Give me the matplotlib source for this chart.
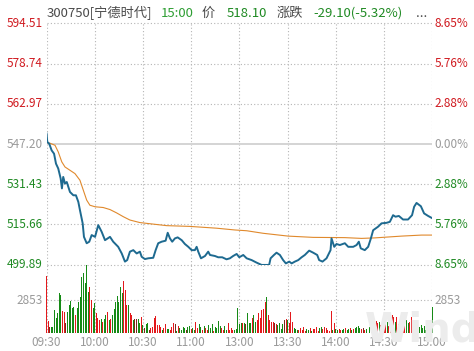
import numpy as np
import matplotlib
matplotlib.use("Agg")
import matplotlib.pyplot as plt

plt.rcParams["font.family"] = ["Noto Sans CJK SC", "DejaVu Sans"]

W, H = 474, 351
RED = "#d01a20"; GREEN = "#1f8a23"; HGREEN = "#2e9e33"; GRAY = "#9a9a9a"; INK = "#4a4a4a"
LINE = "#1e6a90"; AVGC = "#e0892c"; GRID = "#b5b5b5"; BASE = "#d4d4d4"
BAR = {"r": "#e3191c", "g": "#168a16", "d": "#7c2a1e"}

PREV_CLOSE = 547.20
PRICE_TICKS = [594.51, 578.74, 562.97, 547.20, 531.43, 515.66, 499.89]
PCT_LABELS = ["8.65%", "5.76%", "2.88%", "0.00%", "2.88%", "5.76%", "8.65%"]
TIME_LABELS = ["09:30", "10:00", "10:30", "11:00", "13:00", "13:30", "14:00", "14:30", "15:00"]
TIME_POS = [0, 30, 60, 90, 120, 150, 180, 210, 240]
VOL_TICK = 2853

# price trace: minute since open, price
PRICE_T = [0, 0.5, 1.7, 3.2, 4.7, 5.9, 7.3, 8.8, 9.6, 10.4, 11.5, 12.6, 14.6, 16.7, 18.3,
           19.8, 20.8, 22.5, 23.3, 25.0, 26.6, 28.1, 30.2, 32.2, 34.3, 36.4, 39.5, 41.5,
           44.6, 46.8, 48.8, 50.2, 51.9, 54.0, 56.1, 58.1, 59.2, 61.2, 63.3, 66.4, 67.9,
           69.5, 71.6, 74.1, 75.4, 76.8, 78.2, 79.9, 81.6, 84.1, 86.1, 88.2, 90.3, 92.3,
           93.4, 94.4, 96.1, 98.6, 100.6, 101.7, 104.8, 106.8, 109.3, 112.0, 114.1, 116.1,
           118.3, 119.9, 122.4, 124.5, 127.6, 130.7, 133.8, 138.5, 139.4, 141.5, 143.1,
           145.2, 147.2, 148.9, 151.0, 152.5, 154.5, 156.6, 158.7, 160.7, 163.4, 165.9,
           168.4, 169.6, 171.7, 174.2, 176.7, 177.3, 179.0, 180.4, 182.5, 185.6, 187.7,
           190.8, 192.9, 194.3, 195.5, 198.0, 200.1, 201.8, 203.2, 206.3, 208.4, 211.5,
           213.6, 215.6, 217.1, 219.2, 221.8, 224.9, 227.4, 228.7, 230.2, 232.9, 234.9,
           237.4, 240]
PRICE = [551.3, 548.0, 547.3, 544.7, 543.4, 539.5, 537.6, 533.7, 529.8, 534.3, 531.7, 532.3,
         528.4, 527.1, 527.1, 524.5, 521.3, 516.1, 510.8, 508.3, 508.9, 511.5, 510.8, 515.4,
         512.8, 509.5, 510.8, 508.9, 506.9, 504.3, 501.1, 501.7, 505.0, 505.6, 504.3, 505.0,
         503.0, 502.1, 502.4, 502.6, 505.6, 508.3, 508.9, 509.3, 512.4, 510.2, 508.9, 510.2,
         510.6, 509.5, 508.0, 506.9, 505.6, 505.6, 506.9, 505.0, 502.4, 503.3, 505.0, 503.7,
         503.3, 502.8, 502.8, 502.0, 502.4, 503.3, 504.1, 502.8, 503.7, 502.4, 501.7, 500.7,
         499.8, 499.8, 502.4, 503.7, 504.6, 503.7, 501.7, 500.4, 501.1, 500.4, 501.1, 501.7,
         502.8, 503.7, 505.4, 504.6, 503.7, 501.7, 501.1, 502.4, 505.6, 510.2, 506.9, 508.0,
         507.6, 508.3, 506.9, 506.9, 507.6, 508.9, 506.3, 505.6, 506.9, 510.2, 513.4, 514.8,
         516.1, 516.3, 516.7, 519.3, 518.7, 519.0, 517.6, 517.6, 519.3, 522.6, 524.1, 522.8,
         520.0, 519.0, 518.1]

# average price line
AVG_T = [0, 2.2, 5.3, 7.3, 9.5, 11.5, 14.6, 17.7, 20.8, 22.9, 25.0, 27.0, 30.2, 35.3, 39.5,
         43.6, 47.8, 51.9, 58.1, 74.7, 89.2, 105.8, 117.2, 124.5, 134.8, 150.3, 165.9, 185.6,
         196.0, 204.3, 220.9, 233.3, 240]
AVG = [547.8, 547.5, 546.7, 544.1, 540.2, 538.2, 536.9, 535.6, 533.0, 529.1, 525.2, 523.2,
       522.6, 522.3, 521.5, 520.2, 518.7, 517.4, 516.4, 515.2, 514.9, 514.2, 513.5, 513.2,
       512.2, 511.1, 510.6, 510.5, 510.2, 510.4, 511.1, 511.5, 511.5]

# per-minute volume and bar colour (r up / g down / d dark)
VOLUME = [4900, 1060, 570, 560, 570, 2000, 1300, 1730, 3460, 3300,
          1950, 1800, 920, 1870, 2400, 2820, 2160, 2290, 1580, 2160,
          2740, 3170, 4840, 5190, 4325, 5900, 3600, 4030, 2880, 2160,
          2600, 1730, 1300, 1150, 1210, 1000, 1270, 1560, 1850, 1150,
          1270, 1560, 2100, 2680, 3250, 2680, 4030, 3460, 4470, 3750,
          2450, 2450, 1730, 1590, 1150, 1270, 1270, 1210, 865, 1440,
          720, 430, 805, 920, 290, 430, 575, 1300, 1500, 720,
          720, 575, 290, 430, 805, 350, 350, 290, 575, 865,
          805, 230, 630, 430, 290, 575, 430, 290, 520, 630,
          350, 430, 290, 1010, 430, 805, 575, 290, 630, 430,
          290, 720, 430, 805, 230, 575, 430, 1065, 630, 430,
          290, 630, 290, 865, 290, 430, 290, 290, 350, 2160,
          805, 865, 865, 920, 805, 1730, 920, 865, 1300, 1590,
          1010, 1150, 1730, 1300, 2020, 2075, 2740, 3170, 1590, 1150,
          1010, 1010, 920, 805, 720, 865, 350, 805, 1150, 1210,
          1150, 865, 1870, 1010, 430, 350, 290, 290, 430, 290,
          520, 230, 350, 290, 430, 230, 350, 350, 520, 230,
          430, 575, 350, 520, 430, 290, 230, 1955, 290, 865,
          350, 290, 350, 290, 290, 350, 430, 290, 350, 430,
          290, 350, 430, 575, 630, 430, 350, 430, 290, 350,
          290, 575, 1210, 1010, 1150, 1090, 865, 1010, 720, 1150,
          430, 865, 1010, 630, 1150, 1590, 1440, 1010, 1385, 805,
          1300, 720, 1010, 720, 1150, 865, 1010, 1385, 865, 1010,
          720, 630, 575, 720, 430, 630, 290, 0, 0, 0, 2300]
VOL_DIR = ("rrdggggggg" "rrdgggggrg" "gggggggrrg" "grrrgrggrg" "rgggggggrr"
           "rgrrgddggr" "gdggdrrrrr" "rrgrrggrrr" "dgrggggdgg" "rggrrggrgr"
           "rgggrggggr" "rggrrrrggg" "ggrgdgggrg" "grrrrrrgrr" "rrdrggggdr"
           "grrrgggrrr" "rrggrgrrrr" "ggrrrrrrgr" "ggrrggrggr" "grggggrdrg"
           "ggrrrrrgrr" "rrgrrrrgrg" "gdrrggrrrg" "rgggggggggg")

fig = plt.figure(figsize=(W / 100, H / 100), dpi=100)
fig.patch.set_facecolor("white")
ax = fig.add_axes([46.5 / W, 1 - 264.7 / H, 385.8 / W, (264.7 - 23.3) / H])
axv = fig.add_axes([46.5 / W, 1 - 333.3 / H, 385.8 / W, (333.3 - 264.7) / H])
for a in (ax, axv):
    a.set_xlim(0, 240)
    a.set_xticks([]); a.set_yticks([])
    for sp in a.spines.values():
        sp.set_visible(False)
    for t in TIME_POS:
        a.axvline(t, color=GRID, lw=0.8, ls=(0, (1, 2)), zorder=1)

ax.set_ylim(PRICE_TICKS[-1], PRICE_TICKS[0])
tr = ax.get_yaxis_transform()
for i, (p, pct) in enumerate(zip(PRICE_TICKS, PCT_LABELS)):
    c = RED if p > PREV_CLOSE else (GREEN if p < PREV_CLOSE else GRAY)
    if p == PREV_CLOSE:
        ax.axhline(p, color=BASE, lw=1.4, zorder=1)
    else:
        ax.axhline(p, color=GRID, lw=0.8, ls=(0, (1, 2)), zorder=1, clip_on=False)
    ax.text(-0.01, p, f"{p:.2f}", transform=tr, ha="right", va="center",
            fontsize=8.5, color=c, clip_on=False)
    ax.text(1.005, p, pct, transform=tr, ha="left", va="center",
            fontsize=8.5, color=c, clip_on=False)

ax.plot(AVG_T, AVG, color=AVGC, lw=0.8, zorder=3)
ax.plot(PRICE_T, PRICE, color=LINE, lw=1.4, zorder=4, solid_joinstyle="round")

# volume panel
fig.text(365 / W, 1 - 311 / H, "Wind", fontsize=29, fontweight="bold", color="#ececec",
         ha="left", va="top", family="DejaVu Sans", zorder=0)
axv.patch.set_alpha(0)
axv.set_ylim(0, VOL_TICK * 68.4 / 33)
axv.axhline(VOL_TICK, color=GRID, lw=0.8, ls=(0, (1, 2)), zorder=1)
minutes = np.arange(len(VOLUME))
axv.bar(minutes, VOLUME, width=0.62, color=[BAR[d] for d in VOL_DIR[:len(VOLUME)]],
        lw=0, zorder=3, clip_on=False)
trv = axv.get_yaxis_transform()
axv.text(-0.01, VOL_TICK, str(VOL_TICK), transform=trv, ha="right", va="center",
         fontsize=8.5, color=GRAY)
axv.text(1.005, VOL_TICK, str(VOL_TICK), transform=trv, ha="left", va="center",
         fontsize=8.5, color=GRAY)
trx = axv.get_xaxis_transform()
for t, lab in zip(TIME_POS, TIME_LABELS):
    axv.text(t, -0.135, lab, transform=trx, ha="center", va="center",
             fontsize=8.5, color=GRAY, clip_on=False)

# header line
hy = 1 - 13.3 / H
for x, s, c in [(47, "300750[宁德时代]", INK), (161, "15:00", HGREEN), (201.5, "价", INK),
                (226.5, "518.10", GREEN), (276.5, "涨跌", INK),
                (313, "-29.10(-5.32%)", GREEN), (416, "...", INK)]:
    fig.text(x / W, hy, s, fontsize=9.5, color=c, ha="left", va="center")

fig.savefig("out.png", dpi=100, facecolor="white")
